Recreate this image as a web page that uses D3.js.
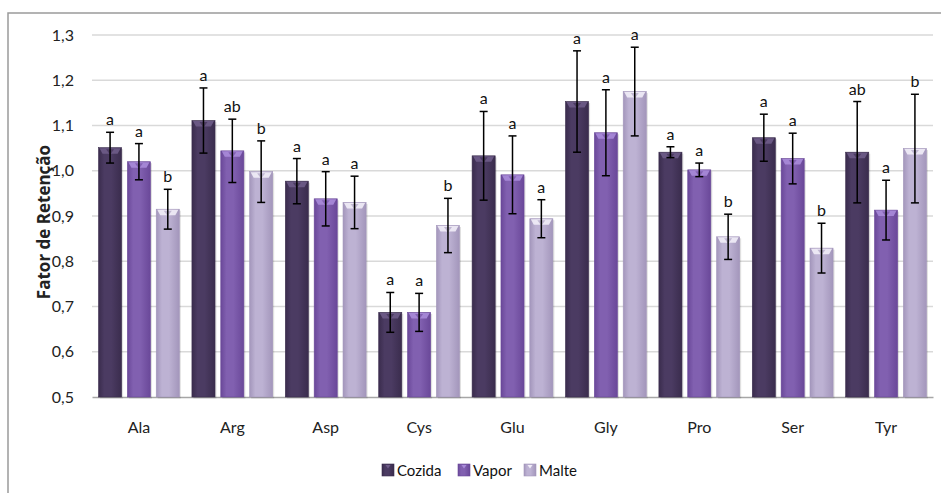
<!DOCTYPE html>
<html>
<head>
<meta charset="utf-8">
<script src="https://cdn.jsdelivr.net/npm/d3@7"></script>
<style>
  body { margin: 0; background: #fff; }
  svg { display: block; }
</style>
</head>
<body>
<svg id="chart" width="941" height="493"></svg>
<script>
// amino acids on the x axis
const categories = ["Ala", "Arg", "Asp", "Cys", "Glu", "Gly", "Pro", "Ser", "Tyr"];
const seriesNames = ["Cozida", "Vapor", "Malte"];

// retention factor (bar heights)
const cozida = [1.051, 1.111, 0.977, 0.687, 1.033, 1.153, 1.041, 1.073, 1.041];
const vapor  = [1.020, 1.044, 0.938, 0.687, 0.991, 1.084, 1.002, 1.027, 0.913];
const malte  = [0.915, 0.998, 0.930, 0.879, 0.894, 1.175, 0.854, 0.829, 1.049];

// error bar half widths
const cozidaErr = [0.034, 0.072, 0.050, 0.044, 0.098, 0.112, 0.012, 0.052, 0.112];
const vaporErr  = [0.040, 0.070, 0.060, 0.042, 0.086, 0.095, 0.015, 0.056, 0.066];
const malteErr  = [0.044, 0.068, 0.058, 0.060, 0.042, 0.098, 0.050, 0.055, 0.120];

// significance letters
const cozidaLbl = ["a", "a", "a", "a", "a", "a", "a", "a", "ab"];
const vaporLbl  = ["a", "ab", "a", "a", "a", "a", "a", "a", "a"];
const malteLbl  = ["b", "b", "a", "b", "a", "a", "b", "b", "b"];

const yTicks = [0.5, 0.6, 0.7, 0.8, 0.9, 1.0, 1.1, 1.2, 1.3];

const values = [cozida, vapor, malte];
const errs = [cozidaErr, vaporErr, malteErr];
const lbls = [cozidaLbl, vaporLbl, malteLbl];

// colours: [edge, middle, top bevel]
const palette = [
    ["#3a2c4d", "#4b3b62", "#6e5c88"],
    ["#6a4899", "#8160b0", "#a98bd9"],
    ["#a396bb", "#bdb2d3", "#f1edf7"]
];

const svg = d3.select("#chart");
const font = "Lato, 'Open Sans', sans-serif";

// chart frame (cut off at the right and bottom)
svg.append("rect")
    .attr("x", 8).attr("y", 13)
    .attr("width", 960).attr("height", 500)
    .attr("fill", "none")
    .attr("stroke", "#9a9a9a")
    .attr("stroke-width", 1.5);

const x0 = 92, x1 = 933, yTop = 35, yBot = 397;

const x = d3.scaleBand()
    .domain(categories)
    .range([x0, x1])
    .paddingInner(0.135)
    .paddingOuter(0.07);

const xs = d3.scaleBand()
    .domain(seriesNames)
    .range([0, x.bandwidth()])
    .paddingInner(0.2);

const y = d3.scaleLinear()
    .domain([0.5, 1.3])
    .range([yBot, yTop]);

// gradients
const defs = svg.append("defs");
palette.forEach((p, i) => {
    const g = defs.append("linearGradient")
        .attr("id", "grad" + i)
        .attr("x1", "0%").attr("x2", "100%")
        .attr("y1", "0%").attr("y2", "0%");
    g.append("stop").attr("offset", "0%").attr("stop-color", p[0]);
    g.append("stop").attr("offset", "25%").attr("stop-color", p[1]);
    g.append("stop").attr("offset", "55%").attr("stop-color", p[1]);
    g.append("stop").attr("offset", "100%").attr("stop-color", p[0]);
});

// gridlines
svg.append("g")
    .selectAll("line")
    .data(yTicks.slice(1))
    .join("line")
    .attr("x1", x0).attr("x2", x1)
    .attr("y1", d => y(d)).attr("y2", d => y(d))
    .attr("stroke", "#d9d9d9")
    .attr("stroke-width", 1.5);

// y axis labels
const yAxis = svg.append("g")
    .attr("transform", `translate(${x0},0)`)
    .call(d3.axisLeft(y).tickValues(yTicks).tickSize(0).tickPadding(18)
        .tickFormat(d => d3.format(".1f")(d).replace(".", ",")));
yAxis.select(".domain").remove();
yAxis.selectAll("text")
    .attr("font-family", font)
    .attr("font-size", 16)
    .attr("fill", "#222");

// x axis
const xAxis = svg.append("g")
    .attr("transform", `translate(0,${yBot})`)
    .call(d3.axisBottom(x).tickSize(0).tickPadding(25));
xAxis.select(".domain")
    .attr("stroke", "#a6a6a6")
    .attr("stroke-width", 1.5);
xAxis.selectAll("text")
    .attr("font-family", font)
    .attr("font-size", 16)
    .attr("fill", "#222");

// y axis title
svg.append("text")
    .attr("transform", "translate(50,222) rotate(-90)")
    .attr("text-anchor", "middle")
    .attr("font-family", "'Open Sans', sans-serif")
    .attr("font-weight", "bold")
    .attr("font-size", 17)
    .attr("fill", "#222")
    .text("Fator de Retenção");

// bars
const rows = [];
categories.forEach((c, ci) => {
    seriesNames.forEach((s, si) => {
        rows.push({
            cat: c, s: s, si: si,
            v: values[si][ci], e: errs[si][ci], l: lbls[si][ci]
        });
    });
});

const bw = xs.bandwidth();
const bars = svg.append("g").selectAll("g")
    .data(rows)
    .join("g")
    .attr("transform", d => `translate(${x(d.cat) + xs(d.s)},0)`);

bars.append("rect")
    .attr("x", 1.5).attr("y", d => y(d.v) + 1.5)
    .attr("width", bw).attr("height", d => yBot - y(d.v))
    .attr("fill", "#000")
    .attr("opacity", 0.12);

bars.append("rect")
    .attr("x", 0).attr("y", d => y(d.v))
    .attr("width", bw).attr("height", d => yBot - y(d.v))
    .attr("fill", d => `url(#grad${d.si})`)
    .attr("stroke", d => palette[d.si][0])
    .attr("stroke-width", 0.6);

// top bevel
bars.append("path")
    .attr("d", d => {
        const t = y(d.v);
        return `M1,${t + 0.5} L${bw - 1},${t + 0.5} L${bw - 4},${t + 6} L4,${t + 6} Z`;
    })
    .attr("fill", d => palette[d.si][2])
    .attr("opacity", 0.9);
bars.append("path")
    .attr("d", d => {
        const t = y(d.v);
        return `M${bw / 2 - 4},${t + 1.5} L${bw / 2 + 4},${t + 1.5} L${bw / 2},${t + 7} Z`;
    })
    .attr("fill", d => palette[d.si][0])
    .attr("opacity", 0.6);

// error bars
const cap = 4;
bars.append("line")
    .attr("x1", bw / 2).attr("x2", bw / 2)
    .attr("y1", d => y(d.v + d.e)).attr("y2", d => y(d.v - d.e))
    .attr("stroke", "#000").attr("stroke-width", 1.5);
bars.append("line")
    .attr("x1", bw / 2 - cap).attr("x2", bw / 2 + cap)
    .attr("y1", d => y(d.v + d.e)).attr("y2", d => y(d.v + d.e))
    .attr("stroke", "#000").attr("stroke-width", 1.5);
bars.append("line")
    .attr("x1", bw / 2 - cap).attr("x2", bw / 2 + cap)
    .attr("y1", d => y(d.v - d.e)).attr("y2", d => y(d.v - d.e))
    .attr("stroke", "#000").attr("stroke-width", 1.5);

// letters
bars.append("text")
    .attr("x", bw / 2)
    .attr("y", d => y(d.v + d.e) - 7)
    .attr("text-anchor", "middle")
    .attr("font-family", font)
    .attr("font-size", 16)
    .attr("fill", "#111")
    .text(d => d.l);

// legend
const legendX = [382, 458, 524];
const legend = svg.append("g").selectAll("g")
    .data(seriesNames)
    .join("g")
    .attr("transform", (d, i) => `translate(${legendX[i]},464)`);
legend.append("rect")
    .attr("width", 12).attr("height", 12)
    .attr("fill", (d, i) => `url(#grad${i})`)
    .attr("stroke", (d, i) => palette[i][0])
    .attr("stroke-width", 0.6);
legend.append("path")
    .attr("d", "M3.5,1 L8.5,1 L6,4.5 Z")
    .attr("fill", (d, i) => palette[i][2]);
legend.append("text")
    .attr("x", 15).attr("y", 12)
    .attr("font-family", font)
    .attr("font-size", 15)
    .attr("fill", "#111")
    .text(d => d);
</script>
</body>
</html>
